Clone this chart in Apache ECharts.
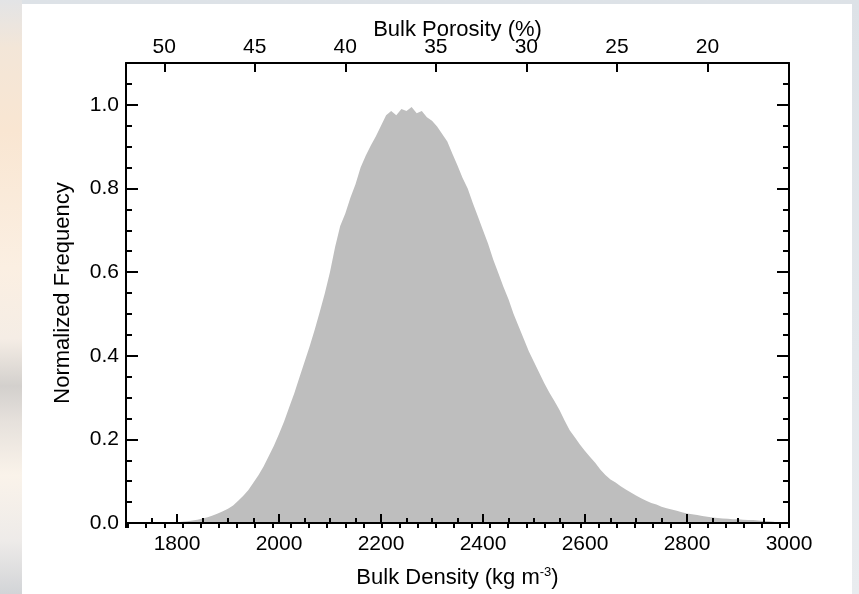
<!DOCTYPE html>
<html><head><meta charset="utf-8">
<script src="https://cdn.jsdelivr.net/npm/echarts@6/dist/echarts.min.js"></script>
<style>
html,body{margin:0;padding:0;width:859px;height:594px;overflow:hidden;}
body{background:linear-gradient(180deg,#dde2e7 0%,#e4e8ec 60%,#e9ecef 100%);position:relative;}
#leftbg{position:absolute;left:0;top:0;width:22px;height:594px;background:linear-gradient(180deg,#e3e4e6 0%,#f3e6d8 8%,#f9e6d2 22%,#fbefe2 45%,#f5ede5 57%,#d3d0cd 65%,#e6e1dc 71%,#faf3ea 80%,#eeebe9 91%,#d2d4d7 100%);}
#box{position:absolute;left:22px;top:4px;width:830px;height:590px;background:#ffffff;}
#chart{position:absolute;left:0;top:0;width:859px;height:594px;}
</style></head>
<body><div id="leftbg"></div><div id="box"></div><div id="chart"></div>
<script>
// Histogram bin centres (kg m^-3) and normalized frequency
const densityBins = [
 1780,1790,1800,1810,1820,1830,1840,1850,1860,1870,1880,1890,1900,1910,1920,1930,1940,1950,1960,1970,
 1980,1990,2000,2010,2020,2030,2040,2050,2060,2070,2080,2090,2100,2110,2120,2130,2140,2150,2160,2170,
 2180,2190,2200,2210,2220,2230,2240,2250,2260,2270,2280,2290,2300,2310,2320,2330,2340,2350,2360,2370,
 2380,2390,2400,2410,2420,2430,2440,2450,2460,2470,2480,2490,2500,2510,2520,2530,2540,2550,2560,2570,
 2580,2590,2600,2610,2620,2630,2640,2650,2660,2670,2680,2690,2700,2710,2720,2730,2740,2750,2760,2770,
 2780,2790,2800,2810,2820,2830,2840,2850,2860,2870,2880,2890,2900,2910,2920,2930,2940,2950,2960,2970,
 2980
];
const frequency = [
 0.000,0.001,0.002,0.003,0.004,0.006,0.008,0.011,0.014,0.018,0.023,0.028,0.034,0.042,0.053,0.065,0.079,0.097,0.115,0.136,
 0.160,0.185,0.213,0.243,0.277,0.310,0.348,0.385,0.422,0.462,0.505,0.550,0.600,0.660,0.710,0.740,0.778,0.810,0.850,0.878,
 0.903,0.925,0.950,0.975,0.985,0.975,0.990,0.985,0.995,0.980,0.985,0.970,0.962,0.948,0.930,0.912,0.883,0.855,0.825,0.800,
 0.765,0.733,0.700,0.668,0.630,0.598,0.565,0.535,0.500,0.470,0.440,0.410,0.385,0.360,0.335,0.312,0.292,0.270,0.245,0.222,
 0.205,0.188,0.172,0.158,0.144,0.128,0.115,0.104,0.097,0.088,0.080,0.073,0.066,0.059,0.053,0.048,0.044,0.039,0.035,0.032,
 0.029,0.026,0.023,0.021,0.019,0.017,0.015,0.013,0.012,0.011,0.010,0.009,0.009,0.008,0.007,0.007,0.006,0.005,0.004,0.003,
 0.000
];
const densityTickLabels = [1800, 2000, 2200, 2400, 2600, 2800, 3000];
const porosityTickLabels = [50, 45, 40, 35, 30, 25, 20];
const frequencyTickLabels = [0.0, 0.2, 0.4, 0.6, 0.8, 1.0];

const densityMin = 1700, densityMax = 3000, grainDensity = 3550;
const freqMin = 0, freqMax = 1.1;
const porosityAtDensityMax = 100 * (1 - densityMax / grainDensity);
const porosityAtDensityMin = 100 * (1 - densityMin / grainDensity);

const fontFamily = '"Liberation Sans", Arial, Helvetica, sans-serif';
const black = '#000000';
const tickFont = 21, titleFont = 22;
const isIn = (arr, v) => arr.some(t => Math.abs(t - v) < 1e-6);

function frameAxis(extra) {
  return Object.assign({
    type: 'value',
    z: 10,
    nameMoveOverlap: false,
    axisLine: { show: true, onZero: false, lineStyle: { color: black, width: 2 } },
    axisTick: { show: true, inside: true, length: 9, lineStyle: { color: black, width: 2 } },
    axisLabel: { show: false },
    splitLine: { show: false },
    minorTick: { show: false },
    axisPointer: { show: false }
  }, extra);
}

const chart = echarts.init(document.getElementById('chart'), null, { renderer: 'canvas' });
chart.setOption({
  animation: false,
  backgroundColor: 'transparent',
  textStyle: { fontFamily: fontFamily, color: black },
  grid: { left: 126, right: 70, top: 63, bottom: 71, containLabel: false },
  xAxis: [
    frameAxis({
      position: 'bottom', min: densityMin, max: densityMax, minInterval: 200, maxInterval: 200,
      axisTick: { show: true, inside: true, length: 9, lineStyle: { color: black, width: 2 } },
      axisLabel: { show: true, margin: 11, color: black, fontSize: tickFont, fontFamily: fontFamily,
        formatter: v => isIn(densityTickLabels, v) ? String(Math.round(v)) : '' },
      name: 'Bulk Density (kg m{sup|-3})', nameLocation: 'middle', nameGap: 43,
      nameTextStyle: { color: black, fontSize: titleFont, fontFamily: fontFamily,
        rich: { sup: { color: black, fontSize: 13, fontFamily: fontFamily, padding: [0, 0, 11, 0] } } }
    }),
    frameAxis({
      position: 'bottom', min: densityMin, max: densityMax, interval: 50,
      axisLine: { show: false },
      axisTick: { show: true, inside: true, length: 5, lineStyle: { color: black, width: 2 } }
    }),
    frameAxis({
      position: 'top', inverse: true, min: porosityAtDensityMax, max: porosityAtDensityMin,
      minInterval: 5, maxInterval: 5,
      axisTick: { show: true, inside: true, length: 9, lineStyle: { color: black, width: 2 } },
      axisLabel: { show: true, margin: 5, color: black, fontSize: tickFont, fontFamily: fontFamily,
        formatter: v => isIn(porosityTickLabels, v) ? String(Math.round(v)) : '' },
      name: 'Bulk Porosity (%)', nameLocation: 'middle', nameGap: 22,
      nameTextStyle: { color: black, fontSize: titleFont, fontFamily: fontFamily }
    }),
    frameAxis({
      position: 'top', inverse: true, min: porosityAtDensityMax, max: porosityAtDensityMin,
      minInterval: 1, maxInterval: 1,
      axisLine: { show: false },
      axisTick: { show: true, inside: true, length: 5, lineStyle: { color: black, width: 2 } }
    })
  ],
  yAxis: [
    frameAxis({
      position: 'left', min: freqMin, max: freqMax, interval: 0.2,
      axisTick: { show: true, inside: true, length: 12, lineStyle: { color: black, width: 2 } },
      axisLabel: { show: true, margin: 7, color: black, fontSize: tickFont, fontFamily: fontFamily,
        formatter: v => isIn(frequencyTickLabels, v) ? v.toFixed(1) : '' },
      name: 'Normalized Frequency', nameLocation: 'middle', nameGap: 52, nameRotate: 90,
      nameTextStyle: { color: black, fontSize: titleFont, fontFamily: fontFamily }
    }),
    frameAxis({
      position: 'left', min: freqMin, max: freqMax, interval: 0.05,
      axisLine: { show: false },
      axisTick: { show: true, inside: true, length: 6, lineStyle: { color: black, width: 2 } }
    }),
    frameAxis({
      position: 'right', min: freqMin, max: freqMax, interval: 0.2,
      axisTick: { show: true, inside: true, length: 12, lineStyle: { color: black, width: 2 } }
    }),
    frameAxis({
      position: 'right', min: freqMin, max: freqMax, interval: 0.05,
      axisLine: { show: false },
      axisTick: { show: true, inside: true, length: 6, lineStyle: { color: black, width: 2 } }
    })
  ],
  series: [{
    type: 'line',
    xAxisIndex: 0,
    yAxisIndex: 0,
    data: densityBins.map((d, i) => [d, frequency[i]]),
    showSymbol: false,
    symbol: 'none',
    lineStyle: { width: 0, opacity: 0 },
    areaStyle: { color: '#bebebe', opacity: 1 },
    silent: true,
    z: 2
  }]
});
</script>
</body></html>
